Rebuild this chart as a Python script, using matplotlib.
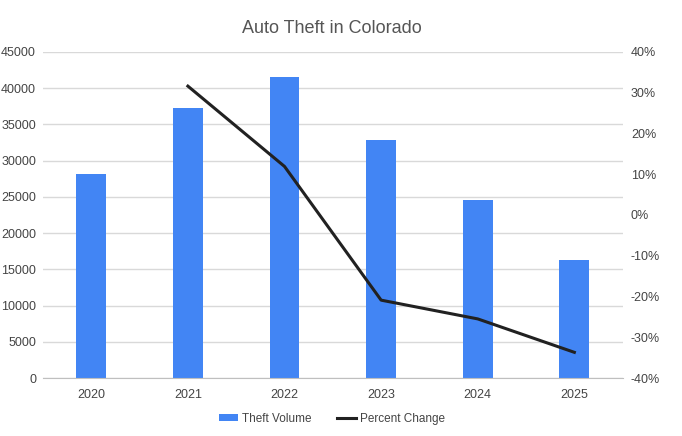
import numpy as np
from matplotlib import pyplot as plt
from matplotlib.ticker import FuncFormatter

plt.rcParams['font.family'] = ['Liberation Sans', 'DejaVu Sans']

years = ['2020', '2021', '2022', '2023', '2024', '2025']
theft_volume = [28200, 37200, 41600, 32900, 24500, 16250]
pct_years = ['2021', '2022', '2023', '2024', '2025']
pct_change = [31.6, 11.9, -20.9, -25.5, -33.7]

bar_color = '#4285F4'
line_color = '#212121'
text_color = '#444444'
grid_color = '#d9d9d9'

fig = plt.figure(figsize=(6.82, 4.36), dpi=100)
ax = fig.add_axes([0.063, 0.133, 0.85, 0.748])

x = np.arange(len(years))
bars = ax.bar(x, theft_volume, width=0.31, color=bar_color, zorder=2, label='Theft Volume')
ax.set_xlim(-0.5, len(years) - 0.5)
ax.set_ylim(0, 45000)
ax.set_yticks(np.arange(0, 45001, 5000))
ax.set_xticks(x)
ax.set_xticklabels(years)
ax.grid(axis='y', color=grid_color, lw=1, zorder=0)
ax.set_axisbelow(True)

ax2 = ax.twinx()
px = [years.index(y) for y in pct_years]
line, = ax2.plot(px, pct_change, color=line_color, lw=2.2, label='Percent Change', zorder=3)
ax2.set_ylim(-40, 40)
ax2.set_yticks(np.arange(-40, 41, 10))
ax2.yaxis.set_major_formatter(FuncFormatter(lambda v, p: f'{int(v)}%'))

for a in (ax, ax2):
    for s in a.spines.values():
        s.set_visible(False)
    a.tick_params(length=0, labelsize=9, colors=text_color)
ax.tick_params(axis='x', pad=8)
ax.tick_params(axis='y', pad=5)
ax2.tick_params(axis='y', pad=6)
ax.spines['bottom'].set_visible(True)
ax.spines['bottom'].set_color('#bfbfbf')

fig.suptitle('Auto Theft in Colorado', x=0.486, y=0.955, fontsize=13, color='#555555')

fig.legend([bars, line], ['Theft Volume', 'Percent Change'], loc='center',
           bbox_to_anchor=(0.487, 0.04), ncol=2, frameon=False, fontsize=8.5,
           handlelength=1.6, handleheight=0.5, handletextpad=0.3, columnspacing=2.2,
           labelcolor=text_color)

fig.savefig('out.png', dpi=100)
